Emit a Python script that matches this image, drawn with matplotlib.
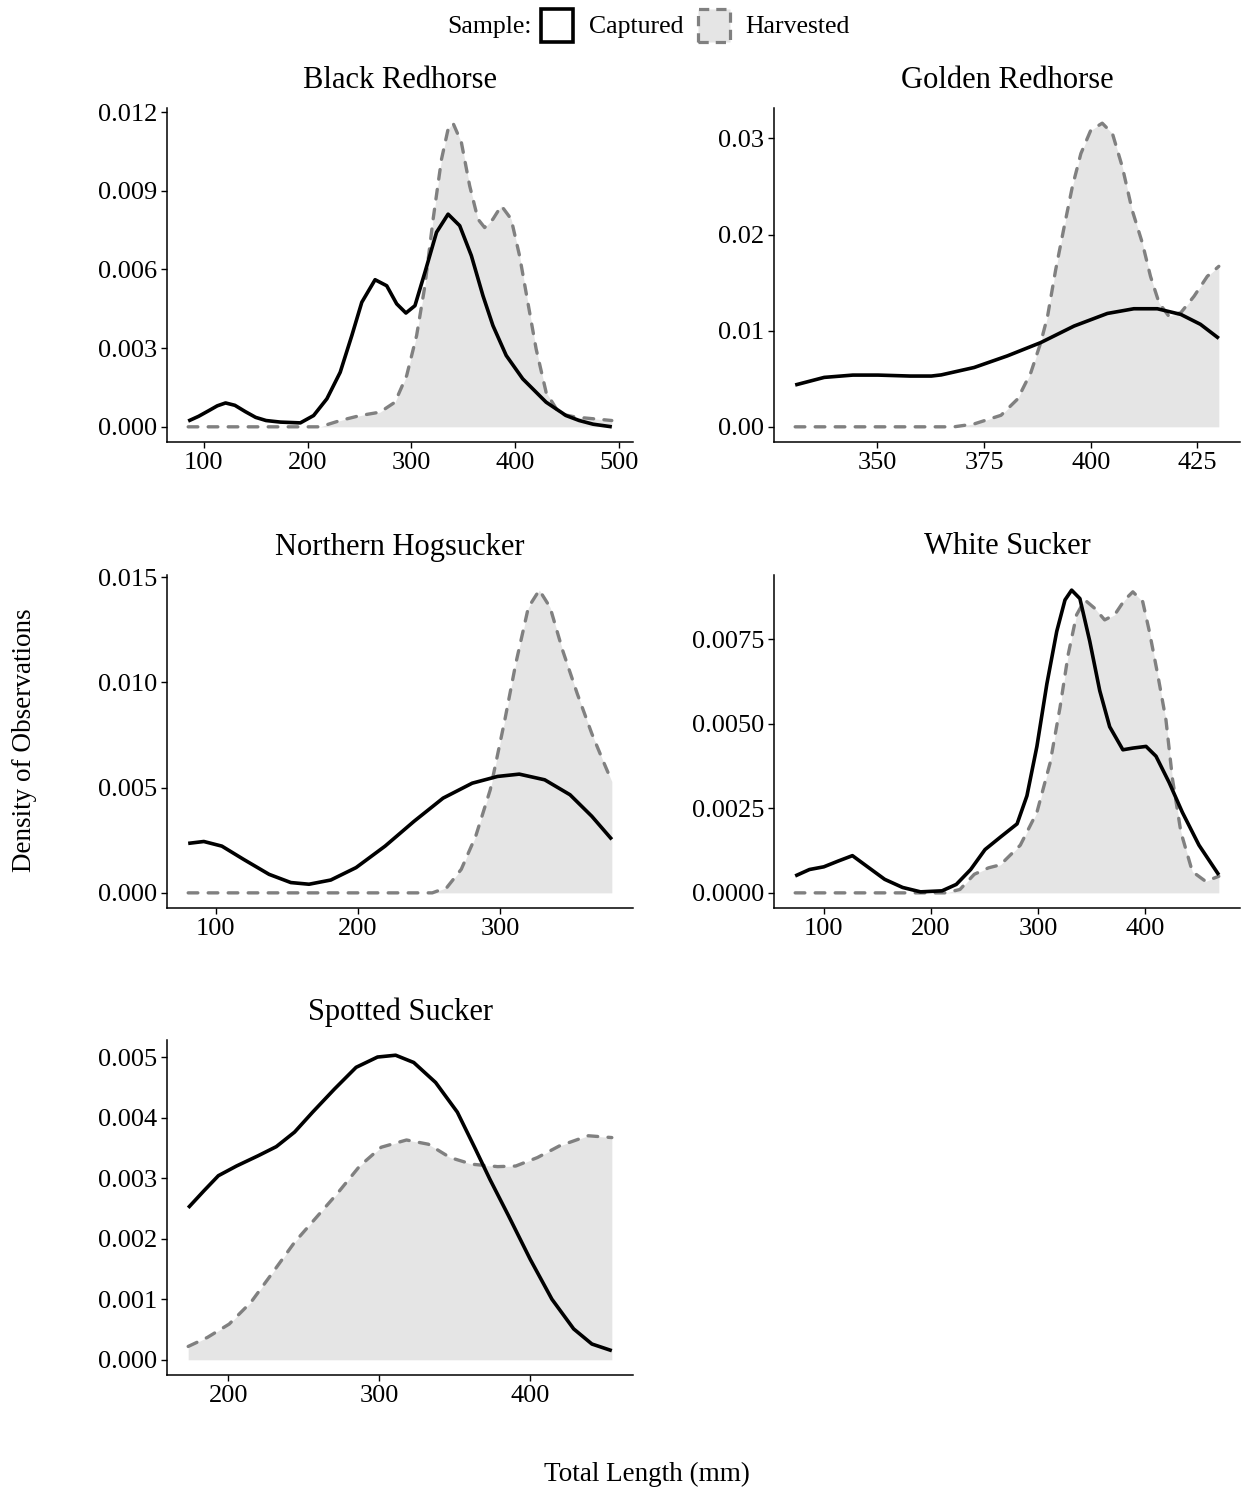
import matplotlib
matplotlib.use("Agg")
import matplotlib.pyplot as plt
from matplotlib.patches import Rectangle

plt.rcParams["font.family"] = ["Liberation Serif", "DejaVu Serif"]

W, H = 1243, 1489

species = ["Black Redhorse", "Golden Redhorse", "Northern Hogsucker",
           "White Sucker", "Spotted Sucker"]

# ---- Black Redhorse ----
br_cap_x = [85, 95, 105, 113, 121, 130, 140, 150, 160, 173.9, 193, 205.8,
            218.6, 231.4, 242.6, 252.2, 265, 276.2, 285.8, 294.7, 303.4, 313,
            324.2, 335.3, 346.5, 357.7, 368.9, 378.5, 391.3, 407.2, 429.7,
            448.9, 461.6, 475, 493]
br_cap_y = [0.00022, 0.0004, 0.00062, 0.0008, 0.00091, 0.00082, 0.00058,
            0.00036, 0.00024, 0.00018, 0.00015, 0.00043, 0.00107, 0.00208,
            0.00348, 0.00475, 0.00561, 0.00538, 0.00469, 0.00434, 0.00462,
            0.00589, 0.00742, 0.00811, 0.00767, 0.00653, 0.005, 0.00386,
            0.00272, 0.00183, 0.00094, 0.00043, 0.00024, 0.0001, 0.0]
br_har_x = [85, 212.2, 231.4, 250.6, 269.8, 284.2, 295.4, 305, 313, 320.9, 329,
            335.3, 340.1, 348.1, 356.1, 364.1, 370.5, 378.5, 386.6, 396.1,
            404.1, 412.1, 420.1, 429.7, 442.4, 458.4, 493]
br_har_y = [0.0, 0.0, 0.00024, 0.00043, 0.00056, 0.00094, 0.00195, 0.00348,
            0.00538, 0.00792, 0.01021, 0.01135, 0.01158, 0.01085, 0.00919,
            0.00792, 0.0076, 0.00792, 0.00843, 0.00792, 0.00653, 0.00475,
            0.00297, 0.00132, 0.0005, 0.00037, 0.00024]

# ---- Golden Redhorse ----
gr_cap_x = [330.8, 337.6, 344.3, 350.2, 357.7, 362.7, 365, 372.7, 380.5,
            388.3, 396.1, 403.9, 410.1, 415.6, 421.1, 425.7, 430]
gr_cap_y = [0.00435, 0.00514, 0.00538, 0.00538, 0.00528, 0.00528, 0.0054,
            0.00617, 0.00738, 0.00876, 0.01048, 0.01179, 0.01228, 0.01228,
            0.01169, 0.01066, 0.0092]
gr_har_x = [330.8, 368, 372.7, 379, 382.9, 386, 388.3, 389.9, 391.8, 393.8,
            395.7, 397.7, 400, 402.7, 405.1, 407.4, 409.7, 412.1, 414, 416,
            418.3, 421.1, 424.2, 427.3, 430]
gr_har_y = [0.0, 0.0, 0.0003, 0.0012, 0.0029, 0.00566, 0.00876, 0.0115,
            0.01634, 0.02083, 0.02497, 0.02842, 0.03083, 0.03158, 0.03049,
            0.02704, 0.02255, 0.01911, 0.01565, 0.0129, 0.0115, 0.01187,
            0.01358, 0.01565, 0.01669]

# ---- Northern Hogsucker ----
nh_cap_x = [80.6, 91.6, 104.3, 119.6, 137.5, 152.8, 165.6, 180.9, 198.7,
            219.1, 239.5, 259.9, 280.4, 298.2, 313.5, 331.4, 349.2, 364.5,
            378.6]
nh_cap_y = [0.00235, 0.00244, 0.00222, 0.00159, 0.00088, 0.00049, 0.00041,
            0.00061, 0.0012, 0.00222, 0.0034, 0.0045, 0.00521, 0.00553,
            0.00564, 0.00537, 0.00466, 0.00364, 0.00254]
nh_har_x = [80.6, 252.3, 262.5, 272.7, 282.9, 293.1, 303.3, 311, 319.9, 327.6,
            335.2, 344.1, 354.3, 364.5, 372.2, 378.6]
nh_har_y = [0.0, 0.0, 0.00025, 0.00112, 0.0027, 0.0049, 0.0082, 0.01088,
            0.01356, 0.01438, 0.01356, 0.0115, 0.00946, 0.00757, 0.00631,
            0.00529]

# ---- White Sucker ----
ws_cap_x = [73.3, 86.6, 100, 113.4, 126.7, 140, 156.8, 173.5, 190.2, 210.3,
            223.6, 237, 250.4, 264.8, 280.3, 289.5, 298.8, 308.1, 317.3, 325,
            331.2, 338.9, 348.1, 357.4, 366.7, 379, 388.3, 400.6, 409.9, 422.2,
            434.5, 450, 468.5]
ws_cap_y = [0.0005, 0.00069, 0.00077, 0.00094, 0.0011, 0.00079, 0.0004,
            0.00016, 0.00003, 0.00006, 0.00025, 0.00069, 0.00128, 0.00165,
            0.00204, 0.00287, 0.00433, 0.00618, 0.00773, 0.00866, 0.00895,
            0.0087, 0.00744, 0.00598, 0.00491, 0.00423, 0.00428, 0.00433,
            0.00404, 0.00326, 0.00238, 0.00141, 0.00053]
ws_har_x = [73.3, 213.7, 227, 240.4, 253.7, 264.8, 283.3, 298.8, 311.1, 320.4,
            328, 335.8, 343.5, 352.8, 362, 371.3, 380.6, 388.3, 397.5, 403.7,
            411.4, 419.2, 425.3, 433.1, 443.8, 456.2, 468.5]
ws_har_y = [0.0, 0.0, 0.0001, 0.00055, 0.00074, 0.00083, 0.00141, 0.00238,
            0.00384, 0.00549, 0.00705, 0.00822, 0.00866, 0.00841, 0.00807,
            0.00822, 0.00866, 0.0089, 0.00861, 0.00773, 0.00647, 0.00511,
            0.00336, 0.0018, 0.00063, 0.00034, 0.00049]

# ---- Spotted Sucker ----
ss_cap_x = [173.3, 183.7, 193.3, 205.3, 219.7, 231.7, 243.8, 255.8, 270.2,
            284.6, 298.8, 310.8, 322.8, 337.3, 351.7, 363.7, 373.3, 385.6, 400,
            414.4, 428.8, 440.9, 454.1]
ss_cap_y = [0.00251, 0.00279, 0.00304, 0.0032, 0.00337, 0.00352, 0.00376,
            0.00409, 0.00447, 0.00483, 0.005, 0.00503, 0.00491, 0.00458,
            0.00409, 0.00348, 0.00298, 0.00238, 0.00166, 0.001, 0.00051,
            0.00026, 0.00015]
ss_har_x = [173.3, 186.1, 200.5, 214.9, 229.3, 243.8, 258.2, 272.6, 287, 301.2,
            318, 332.5, 346.9, 361.3, 378.4, 390.4, 404.8, 419.2, 438.5, 454.1]
ss_har_y = [0.00022, 0.00037, 0.00059, 0.00095, 0.00144, 0.00194, 0.00235,
            0.00276, 0.0032, 0.00351, 0.00363, 0.00356, 0.00334, 0.00323,
            0.00319, 0.0032, 0.00334, 0.00353, 0.0037, 0.00367]

x_ticks = [[100, 200, 300, 400, 500], [350, 375, 400, 425], [100, 200, 300],
           [100, 200, 300, 400], [200, 300, 400]]
y_ticks = [[0.000, 0.003, 0.006, 0.009, 0.012],
           [0.00, 0.01, 0.02, 0.03],
           [0.000, 0.005, 0.010, 0.015],
           [0.0000, 0.0025, 0.0050, 0.0075],
           [0.000, 0.001, 0.002, 0.003, 0.004, 0.005]]
y_labels = [["0.000", "0.003", "0.006", "0.009", "0.012"],
            ["0.00", "0.01", "0.02", "0.03"],
            ["0.000", "0.005", "0.010", "0.015"],
            ["0.0000", "0.0025", "0.0050", "0.0075"],
            ["0.000", "0.001", "0.002", "0.003", "0.004", "0.005"]]

series = [(br_cap_x, br_cap_y, br_har_x, br_har_y),
          (gr_cap_x, gr_cap_y, gr_har_x, gr_har_y),
          (nh_cap_x, nh_cap_y, nh_har_x, nh_har_y),
          (ws_cap_x, ws_cap_y, ws_har_x, ws_har_y),
          (ss_cap_x, ss_cap_y, ss_har_x, ss_har_y)]

# panel boxes in pixels: left, right, top, bottom
boxes = [(167, 633, 108, 442), (774, 1240, 108, 442),
         (167, 633, 575, 908), (774, 1240, 575, 908),
         (167, 633, 1040, 1375)]

CAP_COLOR = "black"
HAR_COLOR = "#808080"
FILL_COLOR = "#E5E5E5"
DASH = (2.9, 3.1)

fig = plt.figure(figsize=(W / 100, H / 100), dpi=100)


def fx(x):
    return x / W


def fy(y):
    return 1 - y / H


for i, name in enumerate(species):
    l, r, t, b = boxes[i]
    ax = fig.add_axes([fx(l), fy(b), (r - l) / W, (b - t) / H])
    cx, cy, hx, hy = series[i]

    ax.fill_between(hx, 0, hy, color=FILL_COLOR, lw=0, zorder=1)
    ax.plot(cx, cy, color=CAP_COLOR, lw=2.6, zorder=3,
            solid_joinstyle="round", solid_capstyle="butt")
    ax.plot(hx, hy, color=HAR_COLOR, lw=2.4, zorder=2, dashes=DASH,
            dash_capstyle="round", dash_joinstyle="round")

    xmin = min(min(cx), min(hx))
    xmax = max(max(cx), max(hx))
    ymax = max(max(cy), max(hy))
    xr = xmax - xmin
    ax.set_xlim(xmin - 0.05 * xr, xmax + 0.05 * xr)
    ax.set_ylim(-0.05 * ymax, 1.05 * ymax)

    ax.set_xticks(x_ticks[i])
    ax.set_xticklabels([str(v) for v in x_ticks[i]])
    ax.set_yticks(y_ticks[i])
    ax.set_yticklabels(y_labels[i])
    ax.tick_params(axis="both", length=4, width=1.0, labelsize=19,
                   color="black", labelcolor="black", pad=3)
    for side in ["top", "right"]:
        ax.spines[side].set_visible(False)
    for side in ["left", "bottom"]:
        ax.spines[side].set_linewidth(1.1)
        ax.spines[side].set_color("black")

    fig.text(fx((l + r) / 2), fy(t - 28), name, ha="center", va="center",
             fontsize=22)

# axis titles
fig.text(fx(647), fy(1474), "Total Length (mm)", ha="center", va="center",
         fontsize=19.5)
fig.text(fx(25), fy(740), "Density of Observations", ha="center", va="center",
         rotation=90, fontsize=19.5)

# legend
fig.text(fx(447), fy(27), "Sample:", ha="left", va="center", fontsize=18.5)
fig.patches.append(Rectangle((fx(541), fy(42)), 32 / W, 33 / H,
                             transform=fig.transFigure, facecolor="white",
                             edgecolor=CAP_COLOR, lw=2.6))
fig.text(fx(589), fy(27), "Captured", ha="left", va="center", fontsize=18.5)
fig.patches.append(Rectangle((fx(698), fy(42)), 32 / W, 33 / H,
                             transform=fig.transFigure, facecolor=FILL_COLOR,
                             edgecolor=HAR_COLOR, lw=2.3,
                             linestyle=(0, (3.2, 2.2))))
fig.text(fx(745), fy(27), "Harvested", ha="left", va="center", fontsize=18.5)

fig.savefig("out.png", dpi=100, facecolor="white")
